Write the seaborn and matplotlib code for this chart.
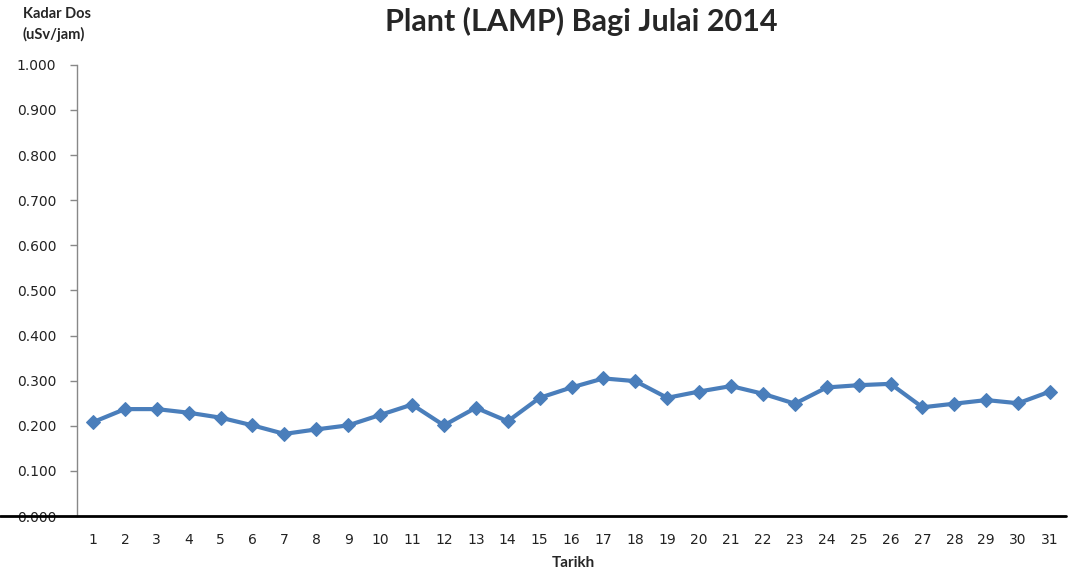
import matplotlib
matplotlib.use("Agg")
import matplotlib.pyplot as plt
import seaborn as sns
import pandas as pd
from matplotlib.lines import Line2D

days = list(range(1, 32))
dose = [0.208, 0.237, 0.237, 0.229, 0.218, 0.201, 0.182, 0.192, 0.201, 0.224,
        0.247, 0.201, 0.240, 0.210, 0.262, 0.285, 0.305, 0.299, 0.262, 0.276,
        0.288, 0.271, 0.249, 0.285, 0.290, 0.293, 0.241, 0.249, 0.257, 0.250,
        0.276]
yticks = [0.0, 0.1, 0.2, 0.3, 0.4, 0.5, 0.6, 0.7, 0.8, 0.9, 1.0]
title_text = "Plant (LAMP) Bagi Julai 2014"
ylabel_text = "Kadar Dos\n(uSv/jam)"
xlabel_text = "Tarikh"

sns.set_style("white")
plt.rcParams['font.family'] = ['DejaVu Sans']

df = pd.DataFrame({"pos": range(len(days)), "dose": dose})

fig = plt.figure(figsize=(10.85, 5.74), dpi=100)
L, R, B, T = 0.071, 0.9825, 0.101, 0.887
ax = fig.add_axes([L, B, R - L, T - B])

sns.lineplot(data=df, x="pos", y="dose", ax=ax, color="#4A7EBB", linewidth=3,
             marker="D", markersize=7, markeredgecolor="#4A7EBB")

ax.set_xlim(-0.5, len(days) - 0.5)
ax.set_ylim(0, 1.0)
ax.set_yticks(yticks)
ax.set_yticklabels([f"{v:.3f}" for v in yticks], fontsize=10, color="#222222")
ax.set_xticks(range(len(days)))
ax.set_xticklabels([str(d) for d in days], fontsize=10, color="#222222")
ax.tick_params(axis="x", which="major", length=0, pad=12)
ax.set_xticks([i - 0.5 for i in range(len(days) + 1)], minor=True)
ax.tick_params(axis="x", which="minor", length=5, color="#888888", width=1, direction="out")
ax.tick_params(axis="y", which="major", length=5, color="#888888", width=1, direction="out", pad=10, left=True)
ax.set_xlabel("")
ax.set_ylabel("")

for s in ["top", "right"]:
    ax.spines[s].set_visible(False)
ax.spines["left"].set_color("#888888")
ax.spines["left"].set_linewidth(1)
ax.spines["bottom"].set_visible(False)

# thick black baseline extending to the figure's left edge
fig.add_artist(Line2D([0.0, R], [B, B], color="black", linewidth=2, transform=fig.transFigure))

fig.text(0.536, 0.962, title_text, ha="center", va="center", fontsize=22,
         fontweight="bold", family=["Lato", "DejaVu Sans"])
fig.text(0.021, 0.958, ylabel_text, ha="left", va="center", fontsize=10.5,
         fontweight="bold", family=["Lato", "DejaVu Sans"], linespacing=1.5)
fig.text(0.528, 0.02, xlabel_text, ha="center", va="center", fontsize=11,
         fontweight="bold", family=["Lato", "DejaVu Sans"])

fig.savefig("out.png", dpi=100)
